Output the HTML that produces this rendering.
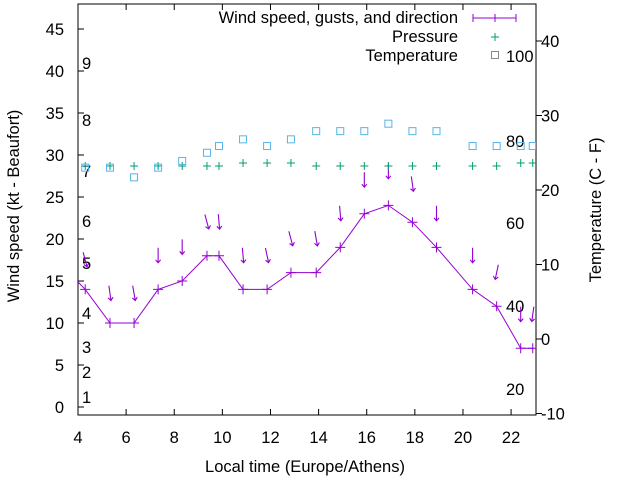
<!DOCTYPE html>
<html><head><meta charset="utf-8"><style>
body{margin:0;background:#fff}
svg{font-family:"Liberation Sans",sans-serif;font-size:16.5px}
</style></head><body>
<svg id="c" width="640" height="480"></svg>
<script>
const hours=[4.3,5.33,6.33,7.33,8.33,9.36,9.86,10.86,11.86,12.85,13.9,14.9,15.9,16.9,17.9,18.9,20.4,21.4,22.4,22.9];
const wind=[14,10,10,14,15,18,18,14,14,16,16,19,23,24,22,19,14,12,7,7];
const gusts=[17.5,13.5,13.5,18,19,22,22,18,18,20,20,23,27,28,26.5,23,18,16,11,11];
const dirs=[-15,-8,-10,0,0,-15,-5,-5,-12,-15,-10,-5,0,0,-8,0,0,12,0,8];
const pressure=[1013,1013,1013,1013,1013,1013,1013,1014,1014,1014,1013,1013,1013,1013,1013,1013,1013,1013,1014,1014];
const temps=[23,23,21.7,23,23.9,25,25.9,26.8,25.9,26.8,27.9,27.9,27.9,28.9,27.9,27.9,25.9,25.9,25.9,25.9];
const yTicks=[0,5,10,15,20,25,30,35,40,45];
const y2Ticks=[-10,0,10,20,30,40];
const xTicks=[4,6,8,10,12,14,16,18,20,22];
const bft=[[1,397],[2,372],[3,347],[4,313],[5,263],[6,221],[7,171],[8,120],[9,63]];
const fahr=[[100,56],[80,141],[60,223],[40,306],[20,389]];
const L=78,R=536,T=4,B=415;
const X=h=>L+(h-4)*24.06;
const Y=v=>407-v*8.4;
const Y2=c=>339-c*7.45;
const YP=p=>166-(p-1013)*3;
const s=document.getElementById('c');const NS='http://www.w3.org/2000/svg';
function el(t,a,p){const e=document.createElementNS(NS,t);for(const k in a)e.setAttribute(k,a[k]);(p||s).appendChild(e);return e;}
function tx(x,y,str,anchor,name){const e=el('text',{x:x,y:y,'text-anchor':anchor||'start'});e.textContent=str;

return e;}
const defs=el('defs',{});const cp=el('clipPath',{id:'cl'},defs);el('rect',{x:L,y:T,width:R-L,height:B-T},cp);
const fr=el('rect',{x:L,y:T,width:R-L,height:B-T,fill:'none',stroke:'#000','stroke-width':1});


yTicks.forEach(v=>{const y=Y(v);el('line',{x1:L,y1:y,x2:L+6,y2:y,stroke:'#000'});tx(64,y+6,String(v),'end','y-tick-label');});
y2Ticks.forEach(v=>{const y=Y2(v);el('line',{x1:R,y1:y,x2:R+6,y2:y,stroke:'#000'});tx(541,y+6,String(v),'start','y2-tick-label');});
xTicks.forEach(v=>{const x=X(v);el('line',{x1:x,y1:B,x2:x,y2:B-6,stroke:'#000'});el('line',{x1:x,y1:T,x2:x,y2:T+6,stroke:'#000'});tx(x,443,String(v),'middle','x-tick-label');});
bft.forEach(b=>tx(82,b[1]+6,String(b[0]),'start','beaufort-label'));
fahr.forEach(f=>tx(506,f[1]+6,String(f[0]),'start','fahrenheit-label'));
tx(305,472,'Local time (Europe/Athens)','middle','x-axis-title');
const yt=tx(0,0,'Wind speed (kt - Beaufort)','middle','y-axis-title');yt.setAttribute('transform','translate(19,206) rotate(-90)');
const y2t=tx(0,0,'Temperature (C - F)','middle','y2-axis-title');y2t.setAttribute('transform','translate(601,210) rotate(-90)');
const g=el('g',{'clip-path':'url(#cl)'});
const pts=[[X(3.3),Y(17)]].concat(hours.map((h,i)=>[X(h),Y(wind[i])]));
const ln=el('polyline',{points:pts.map(p=>p.join(',')).join(' '),fill:'none',stroke:'#9400d3','stroke-width':1},g);


const P='#9400d3',G='#009e73',C='#56b4e9';
hours.forEach((h,i)=>{const x=X(h),y=Y(wind[i]);
el('path',{d:`M${x-5},${y}h10M${x},${y-5}v10`,stroke:P},g);
const gy=Y(gusts[i]);const a=el('g',{transform:`translate(${x},${gy}) rotate(${dirs[i]})`},g);


el('path',{d:'M0,-8V7M-2.5,4L0,7L2.5,4',stroke:P,fill:'none','stroke-width':1.1},a);
const py=YP(pressure[i]);const pm=el('path',{d:`M${x-4},${py}h8M${x},${py-4}v8`,stroke:G},g);


const ty=Y2(temps[i]);const tm=el('rect',{x:x-3.5,y:ty-3.5,width:7,height:7,fill:'none',stroke:C},g);


});
tx(458,23,'Wind speed, gusts, and direction','end','legend-wind');
el('path',{d:'M473,18h43M473,14v8M495,14v8M516,14v8',stroke:P});
tx(458,42,'Pressure','end','legend-pressure');
el('path',{d:'M491,37h8M495,33v8',stroke:G});
tx(458,61,'Temperature','end','legend-temperature');
el('rect',{x:491.5,y:51.5,width:7,height:7,fill:'none',stroke:'#888'});
</script>
</body></html>
